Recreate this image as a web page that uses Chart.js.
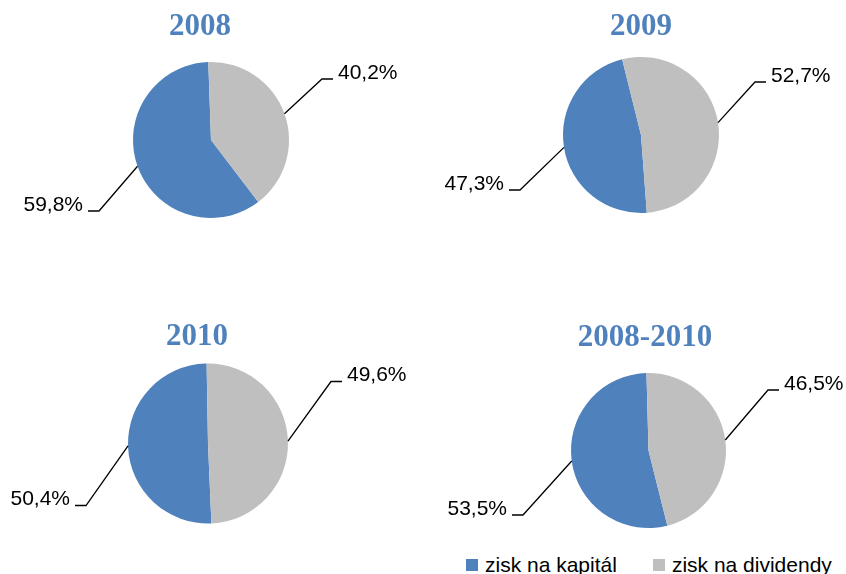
<!DOCTYPE html>
<html>
<head>
<meta charset="utf-8">
<script src="https://cdn.jsdelivr.net/npm/chart.js@4.4.1/dist/chart.umd.min.js"></script>
<style>
    html, body { margin: 0; padding: 0; background: #fff; overflow: hidden; }
    body { width: 846px; height: 574px; position: relative; }
    canvas { position: absolute; }
    #legend { position: absolute; left: 466px; top: 553px; height: 24px; display: flex; align-items: center;
              font: 21px "Liberation Sans", sans-serif; line-height: 24px; color: #000; white-space: nowrap; }
    #legend .box { display: inline-block; width: 12px; height: 12px; margin-right: 7px; }
    #legend .item { display: flex; align-items: center; }
    #legend .item + .item { margin-left: 36px; }
</style>
</head>
<body>
<div id="legend"></div>
<script>
const years = ['2008', '2009', '2010', '2008-2010']
const categories = ['zisk na kapitál', 'zisk na dividendy']
const kapital = [59.8, 47.3, 50.4, 53.5]
const dividendy = [40.2, 52.7, 49.6, 46.5]
const colors = ['#4F81BD', '#BFBFBF']

// canvas box, pie centre and radius, title centre, start angle of the grey slice, label bends (relative to centre)
const layouts = [
    { box: [0, 0, 423, 287], center: [211, 140], r: 78, title: [200, 27], start: -2, bends: [[-112, 71], [111, -61]] },
    { box: [423, 0, 423, 287], center: [641, 135], r: 78, title: [641, 27], start: -14, bends: [[-121, 55], [114, -53]] },
    { box: [0, 287, 423, 287], center: [208, 443.5], r: 80, title: [197, 337], start: -1, bends: [[-122, 62], [123, -62]] },
    { box: [423, 287, 423, 287], center: [648.5, 450.5], r: 77.5, title: [645, 338], start: -1.5, bends: [[-125.5, 64.5], [119.5, -60.5]] }
]

const titleSize = 31
const titleLine = titleSize * 1.2

const formatPct = v => v.toFixed(1).replace('.', ',') + '%'

// leader lines with labels, as in the Excel original
const leaderLines = (lay) => ({
    id: 'leaderLines',
    afterLayout(chart) {
        const shift = lay.title[0] - lay.center[0]
        chart.titleBlock.left += shift
        chart.titleBlock.right += shift
    },
    afterDatasetsDraw(chart) {
        const ctx = chart.ctx
        const meta = chart.getDatasetMeta(0)
        const values = chart.data.datasets[0].data
        ctx.save()
        ctx.strokeStyle = '#000'
        ctx.fillStyle = '#000'
        ctx.lineWidth = 1.3
        ctx.font = '21px "Liberation Sans", sans-serif'
        ctx.textBaseline = 'middle'
        meta.data.forEach((arc, i) => {
            const {x, y, startAngle, endAngle, outerRadius} = arc.getProps(['x', 'y', 'startAngle', 'endAngle', 'outerRadius'])
            const mid = (startAngle + endAngle) / 2
            const sx = x + Math.cos(mid) * outerRadius
            const sy = y + Math.sin(mid) * outerRadius
            const bx = x + lay.bends[i][0]
            const by = y + lay.bends[i][1]
            const dir = lay.bends[i][0] < 0 ? -1 : 1
            const ex = bx + dir * 11

            ctx.beginPath()
            ctx.moveTo(sx, sy)
            ctx.lineTo(bx, by)
            ctx.lineTo(ex, by)
            ctx.stroke()

            ctx.textAlign = dir < 0 ? 'right' : 'left'
            ctx.fillText(formatPct(values[i]), ex + dir * 5, by - 6)
        })
        ctx.restore()
    }
})

let lastChart = null

years.forEach((year, i) => {
    const lay = layouts[i]
    const [bx, by, bw, bh] = lay.box
    const [cx, cy] = lay.center

    const canvas = document.createElement('canvas')
    canvas.width = bw
    canvas.height = bh
    canvas.style.left = bx + 'px'
    canvas.style.top = by + 'px'
    document.body.appendChild(canvas)

    const data = [kapital[i], dividendy[i]]
    const total = data[0] + data[1]

    lastChart = new Chart(canvas, {
        type: 'pie',
        data: {
            labels: categories,
            datasets: [{
                data: data,
                backgroundColor: colors,
                borderWidth: 0,
                hoverOffset: 0,
                rotation: lay.start + dividendy[i] / total * 360
            }]
        },
        options: {
            responsive: false,
            animation: false,
            events: [],
            layout: {
                padding: {
                    left: cx - lay.r - bx,
                    right: bx + bw - cx - lay.r,
                    top: 0,
                    bottom: by + bh - cy - lay.r
                }
            },
            plugins: {
                legend: { display: false },
                tooltip: { enabled: false },
                title: {
                    display: true,
                    text: year,
                    color: '#4F81BD',
                    font: { family: '"Liberation Serif", serif', size: titleSize, weight: 'bold' },
                    padding: {
                        top: lay.title[1] - by - titleLine / 2,
                        bottom: cy - lay.r - lay.title[1] - titleLine / 2
                    }
                }
            }
        },
        plugins: [leaderLines(lay)]
    })
})

// HTML legend built from the chart's own legend items
const legendDiv = document.getElementById('legend')
Chart.overrides.pie.plugins.legend.labels.generateLabels(lastChart).forEach(item => {
    const el = document.createElement('span')
    el.className = 'item'
    const box = document.createElement('span')
    box.className = 'box'
    box.style.background = item.fillStyle
    el.appendChild(box)
    el.appendChild(document.createTextNode(item.text))
    legendDiv.appendChild(el)
})
</script>
</body>
</html>
